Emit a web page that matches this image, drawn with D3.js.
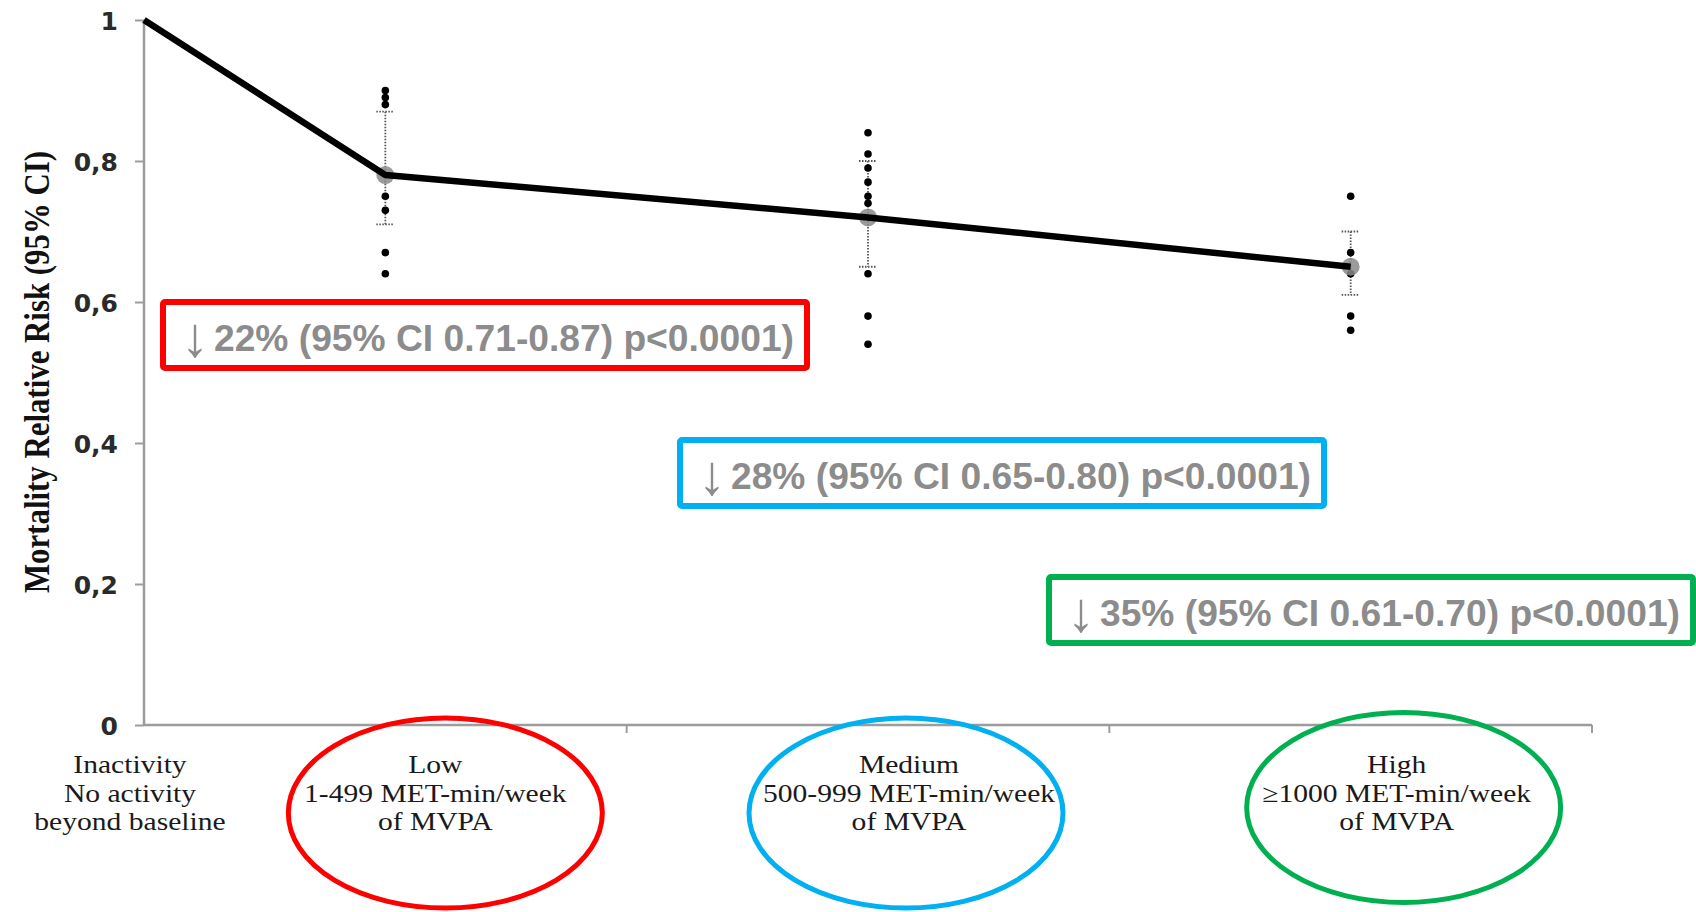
<!DOCTYPE html>
<html>
<head>
<meta charset="utf-8">
<script src="https://cdn.jsdelivr.net/npm/d3@7"></script>
<style>
  html, body { margin: 0; padding: 0; background: #ffffff; }
  svg { display: block; }
</style>
</head>
<body>
<svg id="chart" width="1696" height="912"></svg>
<script>
// Physical activity level groups (first one is the reference group)
const categories = ["Inactivity", "Low", "Medium", "High"];
const categoryLines = [
  ["Inactivity", "No activity", "beyond baseline"],
  ["Low", "1-499 MET-min/week", "of MVPA"],
  ["Medium", "500-999 MET-min/week", "of MVPA"],
  ["High", "\u22651000 MET-min/week", "of MVPA"]
];

// Pooled mortality relative risk and its 95% CI per group
const relativeRisk = [1.0, 0.78, 0.72, 0.65];
const ciLower = [null, 0.71, 0.65, 0.61];
const ciUpper = [null, 0.87, 0.80, 0.70];

// Individual study estimates per active group
const studiesLow = [0.90, 0.89, 0.88, 0.75, 0.73, 0.67, 0.64];
const studiesMedium = [0.84, 0.81, 0.79, 0.77, 0.75, 0.74, 0.64, 0.58, 0.54];
const studiesHigh = [0.75, 0.67, 0.64, 0.58, 0.56];

// Y axis ticks (decimal comma)
const yTicks = [0, 0.2, 0.4, 0.6, 0.8, 1];
const yTickLabels = ["0", "0,2", "0,4", "0,6", "0,8", "1"];

// Reduction summaries shown in the coloured boxes
const reductionTexts = [
  "22% (95% CI 0.71-0.87) p<0.0001)",
  "28% (95% CI 0.65-0.80) p<0.0001)",
  "35% (95% CI 0.61-0.70) p<0.0001)"
];
const groupColors = ["#ff0000", "#00b0f0", "#00b050"];

const svg = d3.select("#chart");

// Scales
const y = d3.scaleLinear().domain([0, 1]).range([725, 20]);
const band = d3.scaleBand().domain(categories.slice(1)).range([144, 1592]).paddingInner(0).paddingOuter(0);
const cx = (c, i) => i === 0 ? band.range()[0] : band(c) + band.bandwidth() / 2;

const axisColor = "#9c9c9c";

// Y axis
const yAxis = d3.axisLeft(y).tickValues(yTicks).tickSize(9).tickFormat((d, i) => yTickLabels[i]);
const gy = svg.append("g").attr("transform", "translate(144,0)").call(yAxis);
gy.select(".domain").attr("stroke", axisColor).attr("stroke-width", 2.5).attr("d", `M0,${y(1)}V${y(0)}`);
gy.selectAll(".tick line").attr("stroke", axisColor).attr("stroke-width", 2);
gy.selectAll(".tick text")
  .attr("x", -26)
  .attr("dy", "0.36em")
  .attr("font-family", "'DejaVu Sans', Verdana, sans-serif")
  .attr("font-weight", "bold")
  .attr("font-size", 25)
  .attr("fill", "#2a2a2a");

// X axis: band boundaries as downward ticks
const gx = svg.append("g");
gx.append("line")
  .attr("x1", band.range()[0]).attr("x2", band.range()[1])
  .attr("y1", y(0)).attr("y2", y(0))
  .attr("stroke", axisColor).attr("stroke-width", 2.5);
gx.selectAll("line.tk")
  .data(categories.slice(1))
  .join("line")
  .attr("class", "tk")
  .attr("x1", d => band(d) + band.bandwidth()).attr("x2", d => band(d) + band.bandwidth())
  .attr("y1", y(0)).attr("y2", y(0) + 8)
  .attr("stroke", axisColor).attr("stroke-width", 2);

// Y axis title (condensed serif)
svg.append("text")
  .attr("transform", `translate(49,${(151 + 593) / 2}) rotate(-90)`)
  .attr("text-anchor", "middle")
  .attr("font-family", "'Liberation Serif', 'Times New Roman', serif")
  .attr("font-weight", "bold")
  .attr("font-size", 36)
  .attr("textLength", 442)
  .attr("lengthAdjust", "spacingAndGlyphs")
  .attr("fill", "#111")
  .text("Mortality Relative Risk (95% CI)");

// Category labels under the axis: one text per line, slightly widened serif
const labelNudge = [-14, 50, 41, 46];
const labelG = svg.append("g")
  .attr("font-family", "'Liberation Serif', 'Times New Roman', serif")
  .attr("font-size", 25.5)
  .attr("fill", "#1a1a1a")
  .attr("text-anchor", "middle");
categories.forEach((c, i) => {
  categoryLines[i].forEach((line, j) => {
    labelG.append("text")
      .attr("transform", `translate(${cx(c, i) + labelNudge[i]},${773 + j * 28.5}) scale(1.16,1)`)
      .text(line);
  });
});

// Ellipses circling the active group labels
const ellipseNudge = [60, 38, 53];
const ellipseCy = [813, 813, 807.5];
svg.append("g").selectAll("ellipse")
  .data(categories.slice(1))
  .join("ellipse")
  .attr("cx", (d, i) => cx(d, i + 1) + ellipseNudge[i])
  .attr("cy", (d, i) => ellipseCy[i])
  .attr("rx", 157)
  .attr("ry", 95)
  .attr("fill", "none")
  .attr("stroke", (d, i) => groupColors[i])
  .attr("stroke-width", 5);

// Study-level estimates and pooled CI
const studies = [studiesLow, studiesMedium, studiesHigh];
const plot = svg.append("g");
categories.slice(1).forEach((c, k) => {
  const i = k + 1;
  const x0 = cx(c, i);
  // dotted error bar
  plot.append("line")
    .attr("x1", x0).attr("x2", x0)
    .attr("y1", y(ciUpper[i])).attr("y2", y(ciLower[i]))
    .attr("stroke", "#555").attr("stroke-width", 1.8).attr("stroke-dasharray", "1.5,1.5");
  [ciUpper[i], ciLower[i]].forEach(v => {
    plot.append("line")
      .attr("x1", x0 - 9).attr("x2", x0 + 9)
      .attr("y1", y(v)).attr("y2", y(v))
      .attr("stroke", "#555").attr("stroke-width", 1.8).attr("stroke-dasharray", "1.5,1.5");
  });
  plot.selectAll(null)
    .data(studies[k])
    .join("circle")
    .attr("cx", x0)
    .attr("cy", d => y(d))
    .attr("r", 3.8)
    .attr("fill", "#000");
});

// Pooled estimate markers
plot.selectAll("circle.pooled")
  .data(relativeRisk.slice(1))
  .join("circle")
  .attr("class", "pooled")
  .attr("cx", (d, k) => cx(categories[k + 1], k + 1))
  .attr("cy", d => y(d))
  .attr("r", 9)
  .attr("fill", "#8a8a8a")
  .attr("opacity", 0.85);

// Relative risk trend line
const line = d3.line()
  .x((d, i) => cx(categories[i], i))
  .y(d => y(d));
plot.append("path")
  .datum(relativeRisk)
  .attr("d", line)
  .attr("fill", "none")
  .attr("stroke", "#000")
  .attr("stroke-width", 6.5)
  .attr("stroke-linejoin", "round");

// Reduction summary boxes
const boxLeft = [163, 680, 1049];
const boxTop = [302, 440, 577];
const boxW = 644, boxH = 66;
reductionTexts.forEach((txt, k) => {
  const g = svg.append("g");
  g.append("rect")
    .attr("x", boxLeft[k]).attr("y", boxTop[k])
    .attr("width", boxW).attr("height", boxH)
    .attr("rx", 2)
    .attr("fill", "none")
    .attr("stroke", groupColors[k])
    .attr("stroke-width", 6);
  g.append("text")
    .attr("x", boxLeft[k] + 18)
    .attr("y", boxTop[k] + 54)
    .attr("font-family", "'Liberation Sans', Arial, sans-serif")
    .attr("font-size", 56)
    .attr("fill", "#8c8c8c")
    .text("\u2193");
  g.append("text")
    .attr("x", boxLeft[k] + 51)
    .attr("y", boxTop[k] + 49)
    .attr("font-family", "'Liberation Sans', Arial, sans-serif")
    .attr("font-weight", "bold")
    .attr("font-size", 36)
    .attr("textLength", 580)
    .attr("lengthAdjust", "spacingAndGlyphs")
    .attr("fill", "#8c8c8c")
    .text(txt);
});
</script>
</body>
</html>
